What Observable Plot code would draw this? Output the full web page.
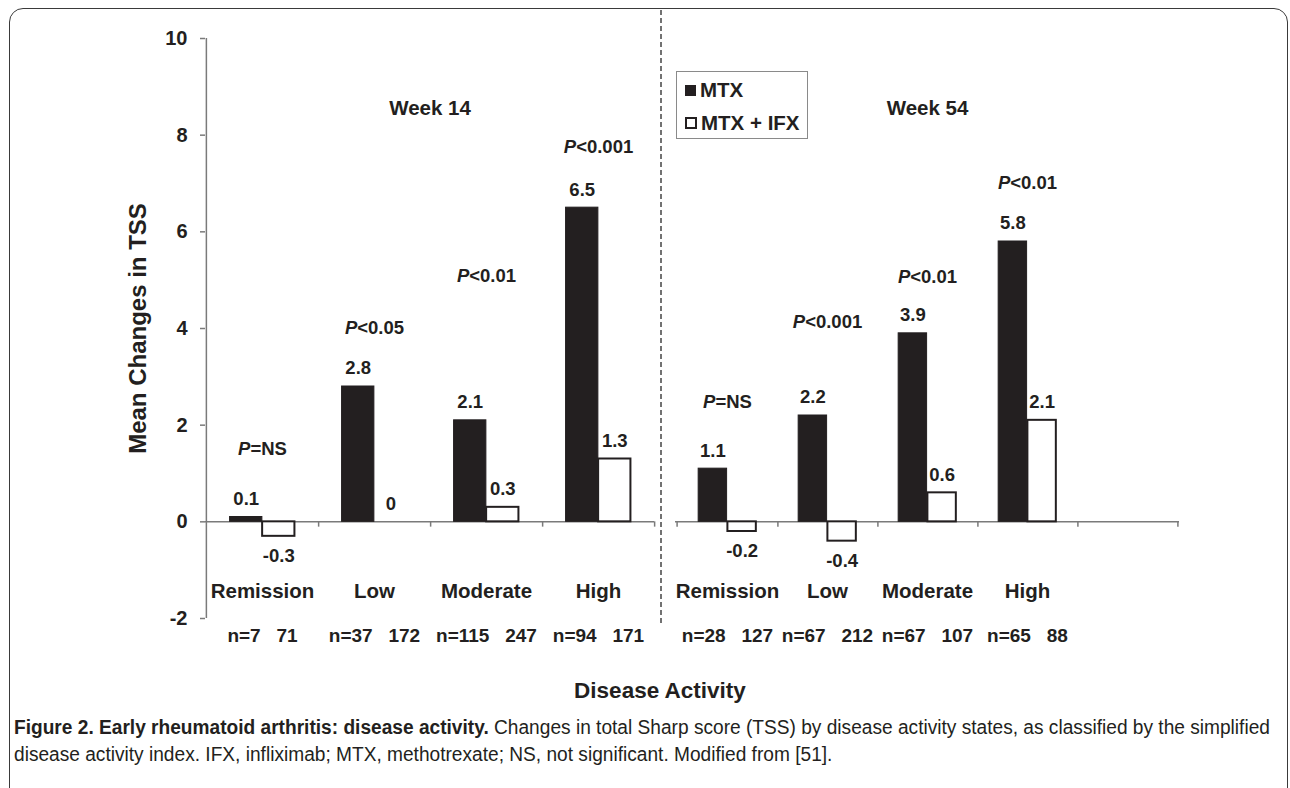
<!DOCTYPE html>
<html><head><meta charset="utf-8">
<script src="https://cdn.jsdelivr.net/npm/d3@7"></script>
<script src="https://cdn.jsdelivr.net/npm/@observablehq/plot@0.6"></script>
<style>
html,body{margin:0;padding:0;background:#fff;width:1290px;height:788px;overflow:hidden;}
#page{position:relative;width:1290px;height:788px;font-family:"Liberation Sans",Arial,sans-serif;color:#231f20;}
#frame{position:absolute;left:9px;top:8px;width:1279px;height:830px;border:1.5px solid #3a3a3a;border-radius:14px 14px 0 0;box-sizing:border-box;}
.panel{position:absolute;top:0;}
#legend{position:absolute;left:676px;top:71px;width:132px;height:68px;border:1.5px solid #8a8a8a;box-sizing:border-box;background:#fff;}
.lrow{position:absolute;left:8px;height:24px;display:flex;align-items:center;font-weight:bold;font-size:20.5px;white-space:nowrap;}
.lsw{width:11px;height:11px;box-sizing:border-box;margin-right:4px;}
#xtitle{position:absolute;left:460px;width:400px;top:678px;text-align:center;font-weight:bold;font-size:22.5px;}
#caption{position:absolute;left:14px;top:714px;line-height:27px;white-space:nowrap;color:#231f20;font-family:"Liberation Sans",Arial,sans-serif;font-size:19.5px;transform-origin:0 0;}
#caption b{color:#231f20;}
</style></head><body><div id="page"><div id="frame"></div></div>
<script>
// ---------- data ----------
const categories = ["Remission", "Low", "Moderate", "High"];
const seriesNames = ["MTX", "MTX + IFX"];
const week14MTX = [0.1, 2.8, 2.1, 6.5];
const week14IFX = [-0.3, 0, 0.3, 1.3];
const week54MTX = [1.1, 2.2, 3.9, 5.8];
const week54IFX = [-0.2, -0.4, 0.6, 2.1];
const week14P = ["P=NS", "P<0.05", "P<0.01", "P<0.001"];
const week54P = ["P=NS", "P<0.001", "P<0.01", "P<0.01"];
const week14PAt = [1.5, 4.0, 5.08, 7.76];
const week54PAt = [2.47, 4.13, 5.06, 7.0];
const week14N = [["7", "71"], ["37", "172"], ["115", "247"], ["94", "171"]];
const week54N = [["28", "127"], ["67", "212"], ["67", "107"], ["65", "88"]];
const yTicks = [-2, 0, 2, 4, 6, 8, 10];
const panelTitles = ["Week 14", "Week 54"];
const yTitle = "Mean Changes in TSS";
const xTitle = "Disease Activity";
const captionBold = "Figure 2. Early rheumatoid arthritis: disease activity.";
const captionLine1 = " Changes in total Sharp score (TSS) by disease activity states, as classified by the simplified";
const captionLine2 = "disease activity index. IFX, infliximab; MTX, methotrexate; NS, not significant. Modified from [51].";

// ---------- style ----------
const FONT = '"Liberation Sans", Arial, sans-serif';
const DARK = "#231f20";
const AXIS = "#7a7a7a";
const BAR_FRAC = 0.29;
const H = 660, MT = 38, MB = 42;

function fmt(v) { return v === 0 ? "0" : String(v); }

function panel({slots, mtx, ifx, pText, pAt, nPairs, title, width, marginLeft, marginRight, withYAxis, startTick}) {
  const bw = (width - marginLeft - marginRight) / slots.length;
  const barW = bw * BAR_FRAC;
  const rows = categories.map((c, i) => ({
    cat: c, mtx: mtx[i], ifx: ifx[i], p: pText[i], pAt: pAt[i],
    n: "n=" + nPairs[i][0] + "\u00a0\u00a0\u00a0" + nPairs[i][1]
  }));
  const lab = {fontSize: 18.5, fontWeight: "bold", fill: DARK};
  const marks = [
    Plot.ruleY([0], {stroke: AXIS, strokeWidth: 1.5}),
    Plot.ruleX(slots, {x: d => d, dx: bw / 2, y1: 0, y2: -0.11, stroke: AXIS, strokeWidth: 1.5}),
    Plot.barY(rows, {x: "cat", y: "mtx", fill: DARK, stroke: DARK, strokeWidth: 1, insetLeft: bw / 2 - barW, insetRight: bw / 2}),
    Plot.barY(rows, {filter: d => d.ifx !== 0, x: "cat", y: "ifx", fill: "#fff", stroke: DARK, strokeWidth: 2, insetLeft: bw / 2, insetRight: bw / 2 - barW}),
    Plot.text(rows, {filter: d => d.mtx >= 0, x: "cat", y: "mtx", text: d => fmt(d.mtx), dx: -barW / 2, dy: -18, ...lab}),
    Plot.text(rows, {filter: d => d.mtx < 0, x: "cat", y: "mtx", text: d => fmt(d.mtx), dx: -barW / 2, dy: 20, ...lab}),
    Plot.text(rows, {filter: d => d.ifx >= 0, x: "cat", y: "ifx", text: d => fmt(d.ifx), dx: barW / 2, dy: -18, ...lab}),
    Plot.text(rows, {filter: d => d.ifx < 0, x: "cat", y: "ifx", text: d => fmt(d.ifx), dx: barW / 2, dy: 20, ...lab}),
    Plot.text(rows, {x: "cat", y: "pAt", text: "p", ...lab}),
    Plot.text(rows, {x: "cat", text: "cat", frameAnchor: "bottom", textAnchor: "middle", dy: -21, fontSize: 20.5, fontWeight: "bold", fill: DARK}),
    Plot.text(rows, {x: "cat", text: "n", frameAnchor: "bottom", textAnchor: "middle", dy: 23, fontSize: 19, fontWeight: "bold", fill: DARK}),
    Plot.text([title], {text: d => d, frameAnchor: "top", dy: 62, fontSize: 20.5, fontWeight: "bold", fill: DARK})
  ];
  if (startTick) marks.push(Plot.ruleX(slots.slice(0, 1), {x: d => d, dx: -bw / 2, y1: 0, y2: -0.11, stroke: AXIS, strokeWidth: 1.5}));
  if (withYAxis) {
    marks.push(Plot.ruleX(slots.slice(0, 1), {x: d => d, dx: -bw / 2, y1: -2, y2: 10, stroke: AXIS, strokeWidth: 1.5}));
    marks.push(Plot.axisY({ticks: yTicks, tickFormat: d => String(d), tickSize: 5, tickPadding: 13, stroke: AXIS, strokeWidth: 1.5, fill: DARK, fontSize: 20, fontWeight: "bold", label: null}));
    marks.push(Plot.text([yTitle], {text: d => d, frameAnchor: "left", textAnchor: "middle", lineAnchor: "middle", rotate: -90, dx: -67.5, fontSize: 24, fontWeight: "bold", fill: DARK}));
  }
  const yOpt = {domain: [-2, 10]};
  if (!withYAxis) yOpt.axis = null;
  const svg = Plot.plot({
    width, height: H, marginTop: MT, marginBottom: MB, marginLeft, marginRight,
    style: {fontFamily: FONT, color: DARK, background: "transparent", overflow: "visible"},
    x: {domain: slots, padding: 0, axis: null},
    y: yOpt,
    marks
  });
  // italic P in p-value labels
  const pSet = new Set(pText);
  d3.select(svg).selectAll("text").each(function () {
    const t = this.textContent;
    if (!pSet.has(t) || this.querySelector("tspan")) return;
    const sel = d3.select(this);
    sel.text(null);
    sel.append("tspan").attr("font-style", "italic").text(t.slice(0, 1));
    sel.append("tspan").text(t.slice(1));
  });
  return svg;
}

const page = document.getElementById("page");

const p1 = panel({slots: categories, mtx: week14MTX, ifx: week14IFX, pText: week14P, pAt: week14PAt, nPairs: week14N,
  title: panelTitles[0], width: 661, marginLeft: 205, marginRight: 7, withYAxis: true, startTick: false});
const d1 = document.createElement("div"); d1.className = "panel"; d1.style.left = "0px"; d1.appendChild(p1); page.appendChild(d1);

const p2 = panel({slots: [...categories, ""], mtx: week54MTX, ifx: week54IFX, pText: week54P, pAt: week54PAt, nPairs: week54N,
  title: panelTitles[1], width: 629, marginLeft: 14, marginRight: 111, withYAxis: false, startTick: true});
const d2 = document.createElement("div"); d2.className = "panel"; d2.style.left = "661px"; d2.appendChild(p2); page.appendChild(d2);

// dashed separator
const sep = d3.select(page).append("svg").style("position", "absolute").style("left", "655px").style("top", "0px")
  .attr("width", 12).attr("height", 640);
sep.append("line").attr("x1", 6).attr("x2", 6).attr("y1", 10).attr("y2", 624)
  .attr("stroke", "#444").attr("stroke-width", 1.5).attr("stroke-dasharray", "5 3");

// legend
const legend = d3.select(page).append("div").attr("id", "legend");
seriesNames.forEach((s, i) => {
  const row = legend.append("div").attr("class", "lrow").style("top", (6 + i * 33) + "px");
  row.append("div").attr("class", "lsw")
    .style("background", i === 0 ? DARK : "#fff")
    .style("border", i === 0 ? "none" : "2px solid " + DARK)
    .style("width", i === 0 ? "11px" : "12px").style("height", i === 0 ? "11px" : "12px");
  row.append("span").text(s);
});

// x title
d3.select(page).append("div").attr("id", "xtitle").text(xTitle);

// caption
const cap = d3.select(page).append("div").attr("id", "caption");
const l1 = cap.append("span").attr("id", "cl1");
l1.append("b").text(captionBold);
l1.append("span").text(captionLine1);
cap.append("br");
cap.append("span").text(captionLine2);
const w = document.getElementById("cl1").getBoundingClientRect().width;
if (w > 0) cap.style("transform", "scaleX(" + (1256 / w).toFixed(4) + ")");
</script></body></html>
